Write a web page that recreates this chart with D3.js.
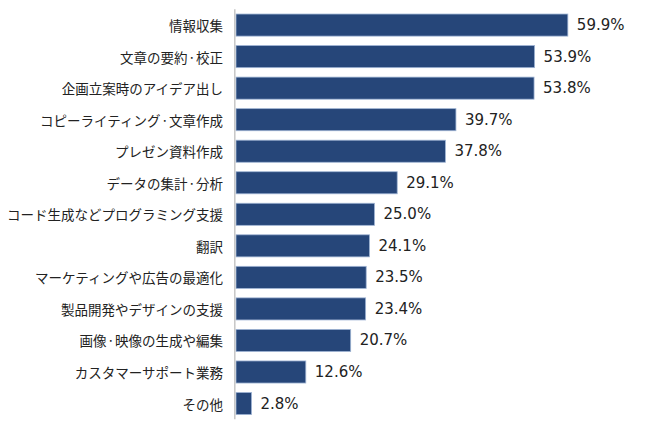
<!DOCTYPE html>
<html><head><meta charset="utf-8">
<script src="https://cdn.jsdelivr.net/npm/d3@7"></script>
<style>body{margin:0;background:#fff}</style>
</head><body><div id="chart"></div>
<script>
const categories = ["情報収集","文章の要約・校正","企画立案時のアイデア出し","コピーライティング・文章作成","プレゼン資料作成","データの集計・分析","コード生成などプログラミング支援","翻訳","マーケティングや広告の最適化","製品開発やデザインの支援","画像・映像の生成や編集","カスタマーサポート業務","その他"];
const values = [59.9,53.9,53.8,39.7,37.8,29.1,25.0,24.1,23.5,23.4,20.7,12.6,2.8];

const W = 659, H = 436;
const svg = d3.select("#chart").append("svg").attr("width", W).attr("height", H);
const x = d3.scaleLinear().domain([0, 60]).range([236, 568.4]);
const y = d3.scaleBand().domain(categories).range([9.3, 419.3]).paddingInner(0.3).paddingOuter(0.15);

svg.selectAll("rect.bar").data(categories).join("rect")
  .attr("class","bar")
  .attr("x", x(0))
  .attr("y", d => y(d))
  .attr("width", (d,i) => x(values[i]) - x(0))
  .attr("height", y.bandwidth())
  .attr("fill", "#264679")
  .attr("stroke", "#9fb4d4")
  .attr("stroke-width", 0.8);

svg.append("line")
  .attr("x1", 234.8).attr("x2", 234.8)
  .attr("y1", y.range()[0]).attr("y2", y.range()[1])
  .attr("stroke", "#c6c6c6").attr("stroke-width", 1.5);

const cat = svg.selectAll("text.cat").data(categories).join("text")
  .attr("class","cat")
  .attr("x", 223)
  .attr("y", d => y(d) + y.bandwidth()/2)
  .attr("text-anchor","end")
  .attr("dominant-baseline","central")
  .attr("font-family","'Noto Sans CJK JP', sans-serif")
  .attr("font-size", 13.5)
  .attr("fill","#222");

cat.each(function(d) {
  const t = d3.select(this);
  d.split(/(・)/).forEach(p => {
    if (!p) return;
    const s = t.append("tspan").text(p);
    if (p === "・") s.attr("font-size", 8.5);
  });
});

svg.selectAll("text.val").data(categories).join("text")
  .attr("class","val")
  .attr("x", (d,i) => x(values[i]) + 9)
  .attr("y", d => y(d) + y.bandwidth()/2)
  .attr("dominant-baseline","central")
  .attr("font-family","'DejaVu Sans', sans-serif")
  .attr("font-size", 15)
  .attr("fill","#222")
  .text((d,i) => values[i].toFixed(1) + "%");
</script></body></html>
